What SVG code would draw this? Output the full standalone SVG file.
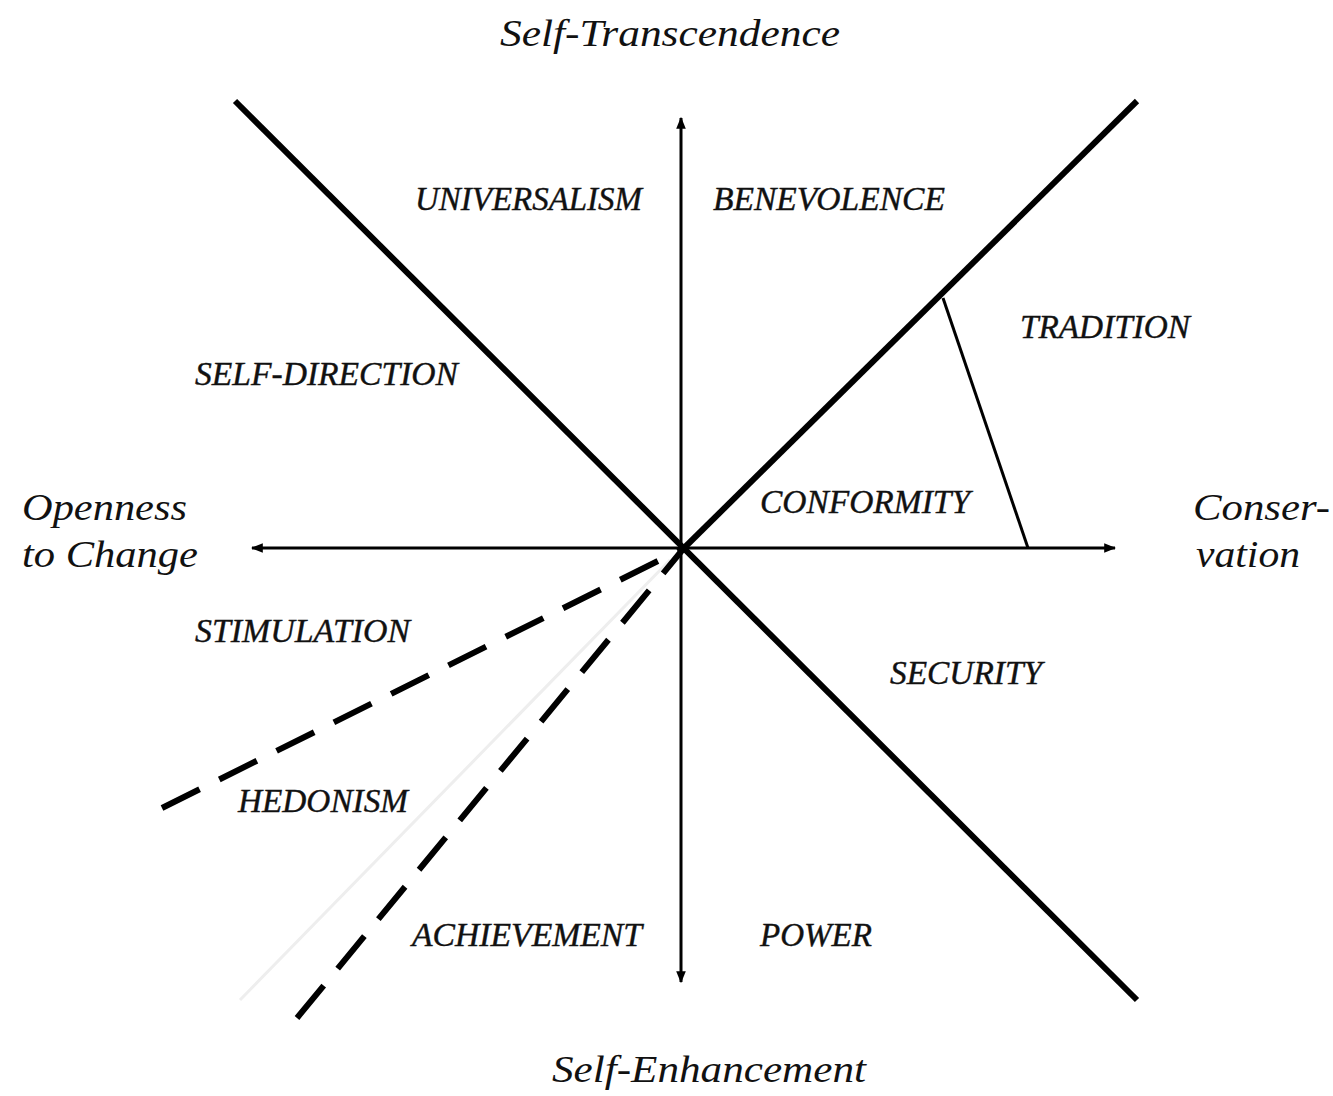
<svg xmlns="http://www.w3.org/2000/svg" width="1333" height="1096" viewBox="0 0 1333 1096">
<defs>
<style>
.lbl{font-family:"Liberation Serif","Times New Roman",serif;font-style:italic;font-size:33px;fill:#111;stroke:#111;stroke-width:0.4}
.ttl{font-family:"Liberation Serif","Times New Roman",serif;font-style:italic;font-size:38px;fill:#111}
.thick{stroke:#000;stroke-width:6;fill:none}
.axis{stroke:#000;stroke-width:3;fill:none}
.dash{stroke:#000;stroke-width:6;fill:none;stroke-dasharray:42 22}
</style>
<marker id="ah" viewBox="0 0 10 10" refX="9" refY="5" markerWidth="4" markerHeight="4" orient="auto-start-reverse" markerUnits="strokeWidth">
<path d="M0,1 L10,5 L0,9 Z" fill="#000"/>
</marker>
</defs>
<rect width="1333" height="1096" fill="#fff"/>
<g id="connectors">
<line class="axis" x1="681" y1="982" x2="681" y2="118" marker-start="url(#ah)" marker-end="url(#ah)"/>
<line class="axis" x1="252" y1="548" x2="1115" y2="548" marker-start="url(#ah)" marker-end="url(#ah)"/>
<line class="thick" x1="235" y1="101" x2="1137" y2="1000"/>
<line class="thick" x1="684" y1="548" x2="1137" y2="101"/>
<line class="axis" x1="943" y1="298" x2="1028" y2="548"/>
<line stroke="#eee" stroke-width="3" x1="240" y1="1000" x2="670" y2="560"/>
<line class="dash" x1="162" y1="808" x2="684" y2="548"/>
<line class="dash" x1="297" y1="1018" x2="684" y2="548"/>
</g>
<g id="self-transcendence"><text class="ttl" x="500" y="46" textLength="340" lengthAdjust="spacingAndGlyphs">Self-Transcendence</text></g>
<g id="self-enhancement"><text class="ttl" x="552" y="1082" textLength="314" lengthAdjust="spacingAndGlyphs">Self-Enhancement</text></g>
<g id="openness"><text class="ttl" x="22" y="520" textLength="165" lengthAdjust="spacingAndGlyphs">Openness</text><text class="ttl" x="22" y="567" textLength="176" lengthAdjust="spacingAndGlyphs">to Change</text></g>
<g id="conservation"><text class="ttl" x="1193" y="520" textLength="137" lengthAdjust="spacingAndGlyphs">Conser-</text><text class="ttl" x="1196" y="567" textLength="104" lengthAdjust="spacingAndGlyphs">vation</text></g>
<g id="universalism"><text class="lbl" x="415" y="210" textLength="227" lengthAdjust="spacingAndGlyphs">UNIVERSALISM</text></g>
<g id="benevolence"><text class="lbl" x="713" y="210" textLength="232" lengthAdjust="spacingAndGlyphs">BENEVOLENCE</text></g>
<g id="tradition"><text class="lbl" x="1020" y="338" textLength="170" lengthAdjust="spacingAndGlyphs">TRADITION</text></g>
<g id="self-direction"><text class="lbl" x="195" y="385" textLength="263" lengthAdjust="spacingAndGlyphs">SELF-DIRECTION</text></g>
<g id="conformity"><text class="lbl" x="760" y="513" textLength="210" lengthAdjust="spacingAndGlyphs">CONFORMITY</text></g>
<g id="stimulation"><text class="lbl" x="195" y="642" textLength="215" lengthAdjust="spacingAndGlyphs">STIMULATION</text></g>
<g id="security"><text class="lbl" x="890" y="684" textLength="152" lengthAdjust="spacingAndGlyphs">SECURITY</text></g>
<g id="hedonism"><text class="lbl" x="238" y="812" textLength="170" lengthAdjust="spacingAndGlyphs">HEDONISM</text></g>
<g id="achievement"><text class="lbl" x="412" y="946" textLength="230" lengthAdjust="spacingAndGlyphs">ACHIEVEMENT</text></g>
<g id="power"><text class="lbl" x="760" y="946" textLength="112" lengthAdjust="spacingAndGlyphs">POWER</text></g>
</svg>
